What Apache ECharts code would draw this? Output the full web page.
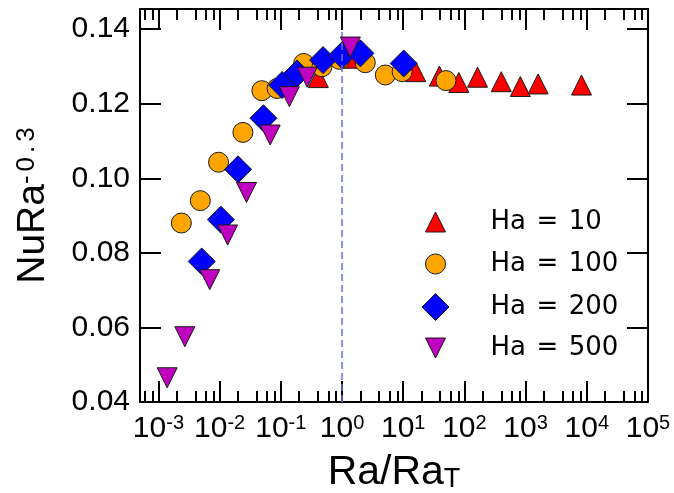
<!DOCTYPE html>
<html>
<head>
<meta charset="utf-8">
<script src="https://cdn.jsdelivr.net/npm/echarts@6/dist/echarts.min.js"></script>
<style>html,body{margin:0;padding:0;background:#fff}#c{width:674px;height:493px}</style>
</head>
<body>
<div id="c"></div>
<script>
// ---- data ----
const seriesNames = ['Ha = 10', 'Ha = 100', 'Ha = 200', 'Ha = 500'];
const xHa10  = [0.41, 1.37, 16, 39, 81, 164, 400, 820, 1600, 8200];
const yHa10  = [0.1270, 0.1322, 0.1286, 0.1274, 0.1257, 0.1271, 0.1259, 0.1246, 0.1253, 0.1250];
const xHa100 = [0.00237, 0.00484, 0.0096, 0.024, 0.049, 0.087, 0.236, 0.47, 0.91, 2.4, 5.1, 9.6, 50];
const yHa100 = [0.0880, 0.0940, 0.1043, 0.1123, 0.1235, 0.1241, 0.1308, 0.1299, 0.1319, 0.1310, 0.1277, 0.1286, 0.1262];
const xHa200 = [0.0051, 0.0105, 0.020, 0.052, 0.105, 0.184, 0.49, 1.0, 2.0, 10.2];
const yHa200 = [0.0777, 0.0889, 0.1024, 0.1161, 0.1250, 0.1281, 0.1317, 0.1330, 0.1335, 0.1308];
const xHa500 = [0.00139, 0.0027, 0.0069, 0.0135, 0.0275, 0.067, 0.138, 0.27, 1.37];
const yHa500 = [0.0465, 0.0575, 0.0728, 0.0848, 0.0962, 0.1116, 0.1219, 0.1271, 0.1352];
const refLineX = 1;          // Ra/Ra_T = 1
const refLineY = [0.04, 0.14];
// axes
const xMin = 0.0005, xMax = 1e5;
const yMin = 0.04, yMax = 0.1454;
const xMajorExp = [-3, -2, -1, 0, 1, 2, 3, 4, 5];
const xMinorMult = [2, 4, 6, 8];
const yTickValues = [0.04, 0.06, 0.08, 0.10, 0.12, 0.14];

// ---- build ----
const xMajor = xMajorExp.map(e => Math.pow(10, e));
const xMinor = [];
for (let e = -4; e <= 4; e++) xMinorMult.forEach(m => { const v = m * Math.pow(10, e); if (v > xMin && v < xMax) xMinor.push(v); });
const pairs = (xs, ys) => xs.map((x, i) => [x, ys[i]]);

const FONT = 'Liberation Sans, Arial, sans-serif';
const lineCol = '#000';
function xAx(pos, major, showLabel) {
  return {
    type: 'log', position: pos, min: xMin, max: xMax, logBase: 10,
    axisLine: { show: major, onZero: false, lineStyle: { color: lineCol, width: 2 } },
    axisTick: { show: true, inside: true, length: major ? 21 : 11, lineStyle: { color: lineCol, width: 2 },
                customValues: major ? xMajor : xMinor },
    minorTick: { show: false },
    splitLine: { show: false },
    axisLabel: showLabel ? {
      show: true, customValues: xMajor, margin: 11,
      formatter: v => '{b|10}{s|' + Math.round(Math.log10(v)) + '}',
      rich: {
        b: { fontSize: 30, fontFamily: FONT, color: '#000', lineHeight: 32 },
        s: { fontSize: 20, fontFamily: FONT, color: '#000', lineHeight: 18, verticalAlign: 'top' }
      }
    } : { show: false },
    name: showLabel ? '{a|Ra/Ra}{b|T}' : '',
    nameLocation: 'middle', nameGap: 50,
    nameTextStyle: {
      rich: {
        a: { fontSize: 41, fontFamily: FONT, color: '#000', lineHeight: 41 },
        b: { fontSize: 27, fontFamily: FONT, color: '#000', lineHeight: 14, verticalAlign: 'bottom' }
      }
    }
  };
}
function yAx(pos, showLabel) {
  return {
    type: 'value', position: pos, min: yMin, max: yMax,
    axisLine: { show: true, onZero: false, lineStyle: { color: lineCol, width: 2 } },
    axisTick: { show: true, inside: true, length: 21, lineStyle: { color: lineCol, width: 2 }, customValues: yTickValues },
    splitLine: { show: false },
    axisLabel: showLabel ? {
      show: true, customValues: yTickValues, margin: 10,
      fontSize: 30, fontFamily: FONT, color: '#000',
      formatter: v => v.toFixed(2)
    } : { show: false },
    name: showLabel ? '{a|NuRa}{b|-}{g| }{b|0}{g| }{b|.}{g| }{b|3}' : '',
    nameLocation: 'middle', nameGap: 87, nameRotate: 90,
    nameTextStyle: {
      rich: {
        a: { fontSize: 39, fontFamily: FONT, color: '#000', lineHeight: 39 },
        b: { fontSize: 26, fontFamily: FONT, color: '#000', lineHeight: 18, verticalAlign: 'top' },
        g: { fontSize: 10, lineHeight: 18, width: 4, verticalAlign: 'top' }
      }
    }
  };
}

const colors = ['#ff0000', '#ffa500', '#0000ff', '#bf00bf'];
const symbols = ['triangle', 'circle', 'diamond', 'triangle'];
const legendIcons = ['triangle', 'circle', 'diamond', 'path://M0,0L2,0L1,2Z'];
const sizes = [20, 20, 27, 20];
const rotates = [0, 0, 0, 180];
const datas = [pairs(xHa10, yHa10), pairs(xHa100, yHa100), pairs(xHa200, yHa200), pairs(xHa500, yHa500)];
const legendCenterX = 435, legendTextX = 490;
const legendCenterY = [223, 265, 307, 349];

const series = [{
  type: 'scatter', data: [], z: 1, silent: true,
  markLine: {
    silent: true, symbol: 'none', label: { show: false },
    lineStyle: { color: '#6b6bff', width: 1.5, type: [7, 4] },
    data: [[{ coord: [refLineX, refLineY[0]] }, { coord: [refLineX, refLineY[1]] }]]
  }
}];
seriesNames.forEach((n, i) => series.push({
  name: n, type: 'scatter', xAxisIndex: 0, yAxisIndex: 0, z: 2 + i,
  symbol: symbols[i], symbolSize: sizes[i], symbolRotate: rotates[i],
  itemStyle: { color: colors[i], borderColor: '#1a1a1a', borderWidth: 1, opacity: 1 },
  data: datas[i]
}));

const legends = seriesNames.map((n, i) => {
  const left = legendCenterX - sizes[i] / 2;
  const pad = legendTextX - (left + sizes[i] + 5);
  return {
    data: [{ name: n, icon: legendIcons[i] }], orient: 'vertical', left: left, top: legendCenterY[i] - Math.max(sizes[i], 28) / 2,
    itemWidth: sizes[i], itemHeight: sizes[i], padding: 0, itemGap: 0,
    symbolRotate: 0,
    selectedMode: false,
    itemStyle: { borderColor: '#1a1a1a', borderWidth: 1 },
    formatter: name => {
      const p = name.split(' = ');
      return '{g| }{t|' + p[0] + '}{s| }{t|=}{s| }{t|' + p[1] + '}';
    },
    textStyle: {
      rich: {
        g: { width: pad, fontSize: 10 },
        t: { fontSize: 26, fontFamily: 'DejaVu Sans', color: '#000', lineHeight: 28 },
        s: { width: 10.5, fontSize: 10 }
      }
    }
  };
});

const chart = echarts.init(document.getElementById('c'), null, { renderer: 'canvas' });
chart.setOption({
  animation: false,
  backgroundColor: '#fff',
  grid: { left: 140, right: 26, top: 9, bottom: 91, show: false, containLabel: false, outerBoundsMode: 'none' },
  xAxis: [xAx('bottom', true, true), xAx('bottom', false, false), xAx('top', true, false), xAx('top', false, false)],
  yAxis: [yAx('left', true), yAx('right', false)],
  legend: legends,
  series: series
});
</script>
</body>
</html>
